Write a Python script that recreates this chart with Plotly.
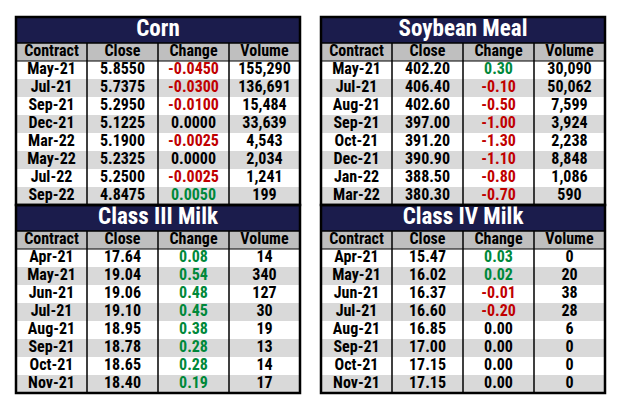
import plotly.graph_objects as go

# 数据
columns = ["Contract", "Close", "Change", "Volume"]

corn_contracts = ["May-21", "Jul-21", "Sep-21", "Dec-21", "Mar-22", "May-22", "Jul-22", "Sep-22"]
corn_close = [5.8550, 5.7375, 5.2950, 5.1225, 5.1900, 5.2325, 5.2500, 4.8475]
corn_change = [-0.0450, -0.0300, -0.0100, 0.0000, -0.0025, 0.0000, -0.0025, 0.0050]
corn_volume = [155290, 136691, 15484, 33639, 4543, 2034, 1241, 199]

soy_contracts = ["May-21", "Jul-21", "Aug-21", "Sep-21", "Oct-21", "Dec-21", "Jan-22", "Mar-22"]
soy_close = [402.20, 406.40, 402.60, 397.00, 391.20, 390.90, 388.50, 380.30]
soy_change = [0.30, -0.10, -0.50, -1.00, -1.30, -1.10, -0.80, -0.70]
soy_volume = [30090, 50062, 7599, 3924, 2238, 8848, 1086, 590]

c3_contracts = ["Apr-21", "May-21", "Jun-21", "Jul-21", "Aug-21", "Sep-21", "Oct-21", "Nov-21"]
c3_close = [17.64, 19.04, 19.06, 19.10, 18.95, 18.78, 18.65, 18.40]
c3_change = [0.08, 0.54, 0.48, 0.45, 0.38, 0.28, 0.28, 0.19]
c3_volume = [14, 340, 127, 30, 19, 13, 14, 17]

c4_contracts = ["Apr-21", "May-21", "Jun-21", "Jul-21", "Aug-21", "Sep-21", "Oct-21", "Nov-21"]
c4_close = [15.47, 16.02, 16.37, 16.60, 16.85, 17.00, 17.15, 17.15]
c4_change = [0.03, 0.02, -0.01, -0.20, 0.00, 0.00, 0.00, 0.00]
c4_volume = [0, 20, 38, 28, 6, 0, 0, 0]

# 页面 body 默认有 8px 边距
OFF = 8
W, H = 624 - OFF, 410 - OFF
NAVY = "#1b1c4c"
HEAD = "#bfbfbf"
ALT = "#d9d9d9"
RED = "#c00000"
GREEN = "#00883a"
FONT = "Roboto Condensed, Roboto, sans-serif"

ROW_H = 18
TITLE_H = 26
T = TITLE_H / ROW_H  # 标题行高度(以数据行为单位)


def px(x):
    return (x - OFF) / W


def py(y):
    return 1 - (y - OFF) / H


fig = go.Figure()
shapes = []
layout = {}


def add_panel(idx, title, contracts, close, change, volume, dec, x0, x1, top):
    n = len(contracts)
    xa = "x" if idx == 1 else "x%d" % idx
    ya = "y" if idx == 1 else "y%d" % idx
    edges = [0, T] + [T + 1 + i for i in range(n + 1)]
    bottom = top + TITLE_H + ROW_H * (n + 1)

    # 单元格底色: 3=标题, 2=表头, 0/1=交替行
    z = [[3] * 4, [2] * 4] + [[i % 2] * 4 for i in range(n)]
    fig.add_trace(go.Heatmap(
        z=z, x=[0, 1, 2, 3, 4], y=edges, zmin=0, zmax=3,
        colorscale=[[0, "white"], [1 / 3, ALT], [2 / 3, HEAD], [1, NAVY]],
        showscale=False, hoverinfo="skip", xaxis=xa, yaxis=ya))

    fmt = "{:.%df}" % dec
    close_txt = [fmt.format(v) for v in close]
    chg_txt = [fmt.format(v) for v in change]
    vol_txt = ["{:,}".format(v) for v in volume]
    chg_colors = [GREEN if c > 0 else (RED if c < 0 else "black") for c in change]

    xs, ys, txt, cols = [], [], [], []
    for j, c in enumerate(columns):
        xs.append(j + 0.5)
        ys.append(T + 0.5)
        txt.append(c)
        cols.append("black")
    for j, vals in enumerate([contracts, close_txt, chg_txt, vol_txt]):
        for i, v in enumerate(vals):
            xs.append(j + 0.5)
            ys.append(T + 1.5 + i)
            txt.append(v)
            cols.append(chg_colors[i] if j == 2 else "black")
    fig.add_trace(go.Scatter(
        x=xs, y=ys, text=txt, mode="text", textposition="middle center",
        textfont=dict(family=FONT, size=16, color=cols, weight="bold"),
        hoverinfo="skip", xaxis=xa, yaxis=ya))
    fig.add_trace(go.Scatter(
        x=[2], y=[T / 2], text=[title], mode="text", textposition="middle center",
        textfont=dict(family=FONT, size=23, color="white", weight="bold"),
        hoverinfo="skip", xaxis=xa, yaxis=ya))

    key = idx if idx > 1 else ""
    layout["xaxis%s" % key] = dict(domain=[px(x0), px(x1)], range=[0, 4], visible=False,
                                   fixedrange=True, anchor=ya)
    layout["yaxis%s" % key] = dict(domain=[py(bottom), py(top)], range=[edges[-1], 0],
                                   visible=False, fixedrange=True, anchor=xa)

    # 线条
    for k in range(1, 4):
        shapes.append(dict(type="line", xref=xa, yref=ya, x0=k, x1=k, y0=T, y1=edges[-1],
                           line=dict(color="black", width=1.5)))
    shapes.append(dict(type="line", xref=xa, yref=ya, x0=0, x1=4, y0=T, y1=T,
                       line=dict(color="black", width=1.5)))
    shapes.append(dict(type="line", xref=xa, yref=ya, x0=0, x1=4, y0=T + 1, y1=T + 1,
                       line=dict(color="black", width=1)))
    shapes.append(dict(type="rect", xref="paper", yref="paper",
                       x0=px(x0), x1=px(x1), y0=py(bottom), y1=py(top),
                       line=dict(color="black", width=2.5)))
    return bottom


b1 = add_panel(1, "Corn", corn_contracts, corn_close, corn_change, corn_volume, 4, 16, 300, 17)
add_panel(2, "Class III Milk", c3_contracts, c3_close, c3_change, c3_volume, 2, 16, 300, b1)
b2 = add_panel(3, "Soybean Meal", soy_contracts, soy_close, soy_change, soy_volume, 2, 321, 605, 17)
add_panel(4, "Class IV Milk", c4_contracts, c4_close, c4_change, c4_volume, 2, 321, 605, b2)

fig.update_layout(width=W, height=H, margin=dict(l=0, r=0, t=0, b=0),
                  paper_bgcolor="white", plot_bgcolor="white", showlegend=False,
                  shapes=shapes, **layout)
fig.write_html("out.html")
